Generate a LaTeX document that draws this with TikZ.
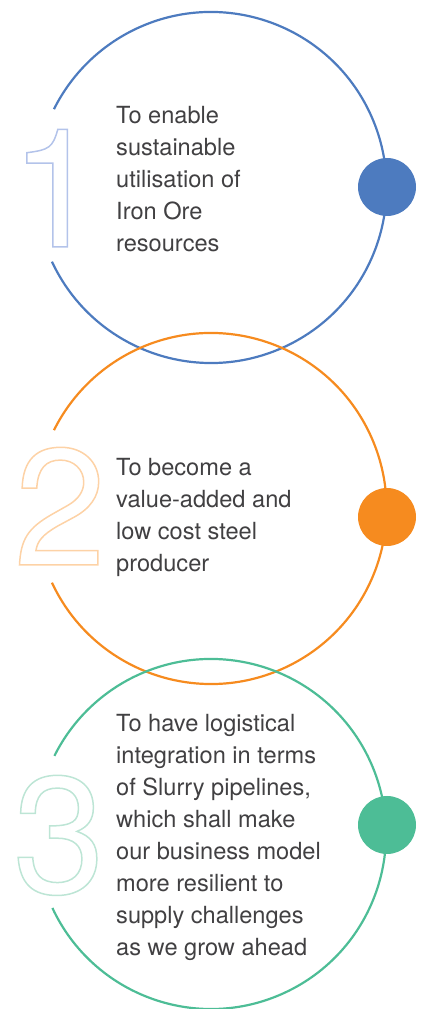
\documentclass[tikz,border=0pt]{standalone}
\usepackage{fontspec}
\setmainfont{TeX Gyre Heros}
\definecolor{cblue}{HTML}{4D7BBF}
\definecolor{corange}{HTML}{F68B1F}
\definecolor{cgreen}{HTML}{4DBD96}
\definecolor{lblue}{HTML}{B3C3EA}
\definecolor{lorange}{HTML}{FDD2A6}
\definecolor{lgreen}{HTML}{BDE5D5}
\definecolor{txtgray}{HTML}{414042}
\newcommand\outlinedigit[1]{\special{pdf:literal direct 1 Tr 1.5 w}#1\special{pdf:literal direct 0 Tr}}
\newcommand\lineitem[1]{\hbox{#1}}
\tikzset{
  ring/.style={line width=2.2pt},
  dotnode/.style={circle, minimum size=58pt, inner sep=0pt, draw=none},
  txt/.style={anchor=base west, inner sep=0pt, text=txtgray, font=\fontsize{23.6}{32}\selectfont},
  digit/.style={anchor=base, inner sep=0pt, font=\fontsize{166}{166}\selectfont},
}
\begin{document}
\begin{tikzpicture}[x=1pt,y=1pt]
\useasboundingbox (0,0) rectangle (424,1009);
\coordinate (c1) at (211,821.5);
\coordinate (c2) at (211,500.5);
\coordinate (c3) at (211,175);
% rings with gap on left
\draw[ring, cblue] (c1) ++(-155:175.5) arc[start angle=-155, end angle=153.5, radius=175.5];
\draw[ring, corange] (c2) ++(-155:175.5) arc[start angle=-155, end angle=153.5, radius=175.5];
\draw[ring, cgreen] (c3) ++(-155:175) arc[start angle=-155, end angle=153.5, radius=175];
% dots
\node[dotnode, fill=cblue] (d1) at (387,822) {};
\node[dotnode, fill=corange] (d2) at (387,492) {};
\node[dotnode, fill=cgreen] (d3) at (387,184) {};
% big outlined numbers
\node[digit, text=lblue] (n1) at (56,762) {\outlinedigit{1}};
\node[digit, text=lorange] (n2) at (60,444) {\outlinedigit{2}};
\node[digit, text=lgreen] (n3) at (59,116) {\outlinedigit{3}};
% texts
\node[txt] (t1) at (116,885) {\vtop{\lineitem{To enable}\lineitem{sustainable}\lineitem{utilisation of}\lineitem{Iron Ore}\lineitem{resources}}};
\node[txt] (t2) at (116,533) {\vtop{\lineitem{To become a}\lineitem{value-added and}\lineitem{low cost steel}\lineitem{producer}}};
\node[txt] (t3) at (116,277) {\vtop{\lineitem{To have logistical}\lineitem{integration in terms}\lineitem{of Slurry pipelines,}\lineitem{which shall make}\lineitem{our business model}\lineitem{more resilient to}\lineitem{supply challenges}\lineitem{as we grow ahead}}};
\end{tikzpicture}
\end{document}
